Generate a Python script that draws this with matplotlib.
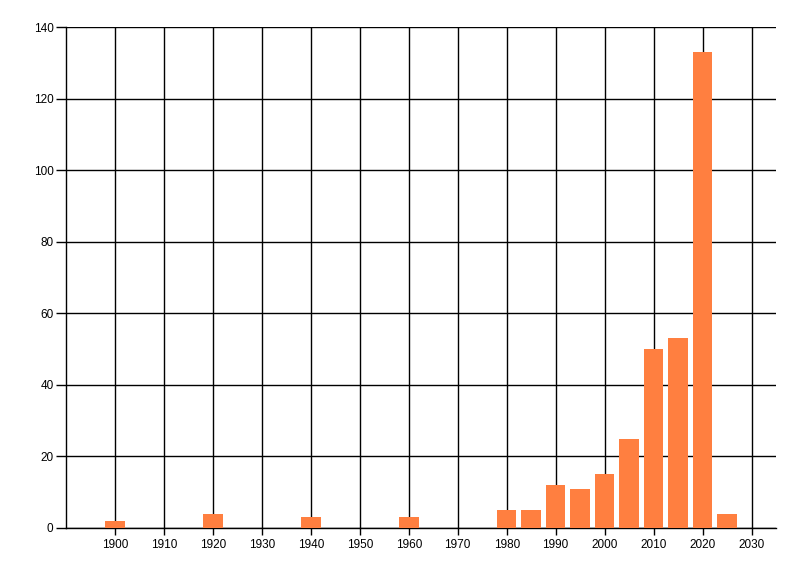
import matplotlib
matplotlib.use('Agg')
import matplotlib.pyplot as plt

# year bins and counts
years = [1900, 1920, 1940, 1960, 1980, 1985, 1990, 1995, 2000, 2005, 2010, 2015, 2020, 2025]
counts = [2, 4, 3, 3, 5, 5, 12, 11, 15, 25, 50, 53, 133, 4]
xticks = list(range(1900, 2031, 10))
yticks = list(range(0, 141, 20))

plt.rcParams['font.family'] = ['Liberation Sans', 'DejaVu Sans']

fig = plt.figure(figsize=(8, 5.76), dpi=100)
ax = fig.add_axes([66 / 800, 1 - 528 / 576, (776 - 66) / 800, (528 - 27) / 576])

ax.bar(years, counts, width=4, color='#FF7F40', zorder=3)

ax.set_xlim(1890, 2035)
ax.set_ylim(0, 140)
ax.set_xticks(xticks)
ax.set_yticks(yticks)
ax.tick_params(axis='both', labelsize=8.5, colors='black', width=1, direction='out')
ax.tick_params(axis='x', length=5, pad=3)
ax.tick_params(axis='y', length=7, pad=2)

ax.grid(True, color='black', linewidth=1, zorder=0)
ax.set_axisbelow(True)

ax.spines['top'].set_visible(False)
ax.spines['right'].set_visible(False)
ax.spines['left'].set_linewidth(1)
ax.spines['bottom'].set_linewidth(1)

fig.savefig('out.png', dpi=100)
